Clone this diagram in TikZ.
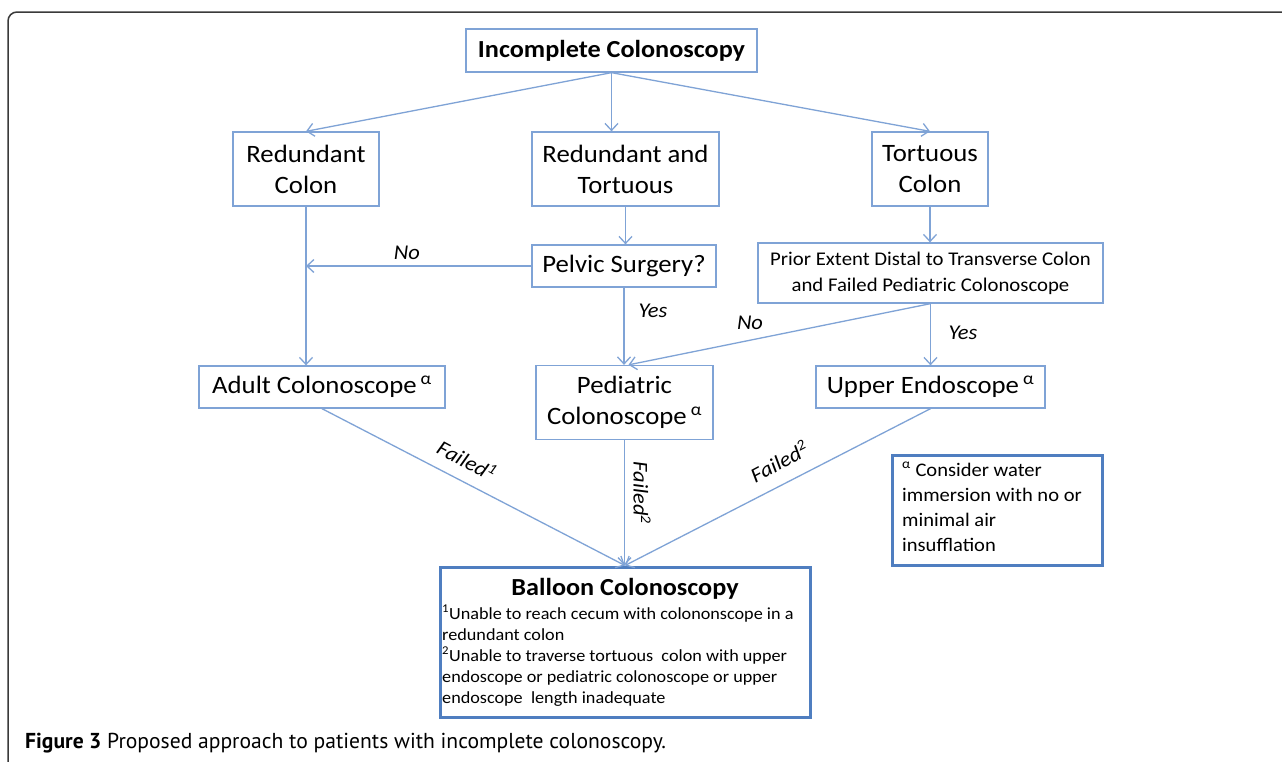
\documentclass[tikz,border=0pt]{standalone}
\usepackage{fontspec}
\setmainfont{Carlito}[FakeStretch=1.07]
\newfontfamily\capfont{PT Sans}
\usetikzlibrary{arrows.meta}
\definecolor{lblue}{HTML}{7FA3D6}
\definecolor{dblue}{HTML}{4F7EC0}
\definecolor{framegray}{HTML}{3A3A3A}
\newcommand{\alp}{\hspace{4pt}\textsuperscript{α}}
\tikzset{
 fbox/.style={draw=lblue, line width=1.3pt, inner sep=0pt, align=center, font=\fontsize{25}{31}\selectfont},
 thickbox/.style={draw=dblue, line width=3pt, inner sep=0pt},
 conn/.style={draw=lblue, line width=1.3pt, -{Straight Barb[length=7pt,width=13pt,line width=1.3pt]}},
 lab/.style={font=\fontsize{21}{25}\selectfont\itshape, inner sep=0pt},
 txt/.style={inner sep=0pt, align=left},
}
\begin{document}
\begin{tikzpicture}[x=1pt,y=-1pt]
\useasboundingbox (0,0) rectangle (1282,761);
\fill[white] (0,0) rectangle (1282,761);
\draw[framegray, line width=1.5pt, rounded corners=9pt] (8,770) -- (8,12) -- (1295,12);

% boxes
\node[fbox, minimum width=291pt, minimum height=43pt, font=\fontsize{24.5}{29}\selectfont\bfseries] (top) at (611.5,50.5) {Incomplete Colonoscopy};
\node[fbox, minimum width=146pt, minimum height=74pt] (rc) at (306,169) {Redundant\\Colon};
\node[fbox, minimum width=187pt, minimum height=74pt] (rt) at (625.5,169) {Redundant and\\Tortuous};
\node[fbox, minimum width=116pt, minimum height=74pt] (tc) at (930,169) {Tortuous\\Colon};
\node[fbox, minimum width=184pt, minimum height=42pt] (ps) at (624,266) {Pelvic Surgery?};
\node[fbox, minimum width=345pt, minimum height=60pt, font=\fontsize{19.4}{26}\selectfont] (pe) at (930.5,273) {Prior Extent Distal to Transverse Colon\\and Failed Pediatric Colonoscope};
\node[fbox, minimum width=246pt, minimum height=42pt] (ad) at (322,387) {Adult Colonoscope\alp};
\node[fbox, minimum width=177pt, minimum height=74pt] (pc) at (624.5,402.5) {Pediatric\\Colonoscope\alp};
\node[fbox, minimum width=229pt, minimum height=42pt] (ue) at (930.5,387) {Upper Endoscope\alp};
\node[thickbox, minimum width=370pt, minimum height=150pt] (bc) at (625,642) {};
\node[thickbox, minimum width=210pt, minimum height=110pt] (nb) at (997,510) {};

% texts in thick boxes
\node[txt, font=\fontsize{24.5}{29}\selectfont\bfseries] (bct) at (625,589) {Balloon Colonoscopy};
\node[txt, anchor=north west, font=\fontsize{17}{21}\selectfont] (bcf) at (442,605) {\textsuperscript{1}Unable to reach cecum with colononscope in a\\redundant colon\\\textsuperscript{2}Unable to traverse tortuous\ \ colon with upper\\endoscope or pediatric colonoscope or upper\\endoscope\ \ length inadequate};
\node[txt, anchor=north west, font=\fontsize{19.2}{25}\selectfont] (nbt) at (902,462) {\textsuperscript{α} Consider water\\immersion with no or\\minimal air\\insufflation};

% connectors
\draw[conn] (top.south) -- (rc.north);
\draw[conn] (top.south) -- (top.south |- rt.north);
\draw[conn] (top.south) -- (tc.north);
\draw[conn] (rt.south) -- (rt.south |- ps.north);
\coordinate (nojoin) at (rc.south |- ps.west);
\draw[conn] (ps.west) -- (nojoin);
\draw[conn] (rc.south) -- (rc.south |- ad.north);
\draw[conn] (ps.south) -- (ps.south |- pc.north);
\draw[conn] (tc.south) -- (tc.south |- pe.north);
\coordinate (pcin) at ([xshift=4pt]pc.north);
\draw[conn] (pe.south) -- (pcin);
\draw[conn] (pe.south) -- (pe.south |- ue.north);
\draw[conn] (ad.south) -- (bc.north);
\draw[conn] (pc.south) -- (pc.south |- bc.north);
\draw[conn] (ue.south) -- (bc.north);

% labels
\node[lab] (l1) at (407,253) {No};
\node[lab] (l2) at (653,311) {Yes};
\node[lab] (l3) at (750,323) {No};
\node[lab] (l4) at (963,333) {Yes};
\node[lab, rotate=-28] (l5) at (467,460) {Failed\textsuperscript{1}};
\node[lab, rotate=-90] (l6) at (642,493) {Failed\textsuperscript{2}};
\node[lab, rotate=28] (l7) at (779,461) {Failed\textsuperscript{2}};

% caption
\node[txt, anchor=west, font=\capfont\fontsize{21.6}{26}\selectfont] (cap) at (25,743) {\textbf{Figure 3} Proposed approach to patients with incomplete colonoscopy.};
\end{tikzpicture}
\end{document}
